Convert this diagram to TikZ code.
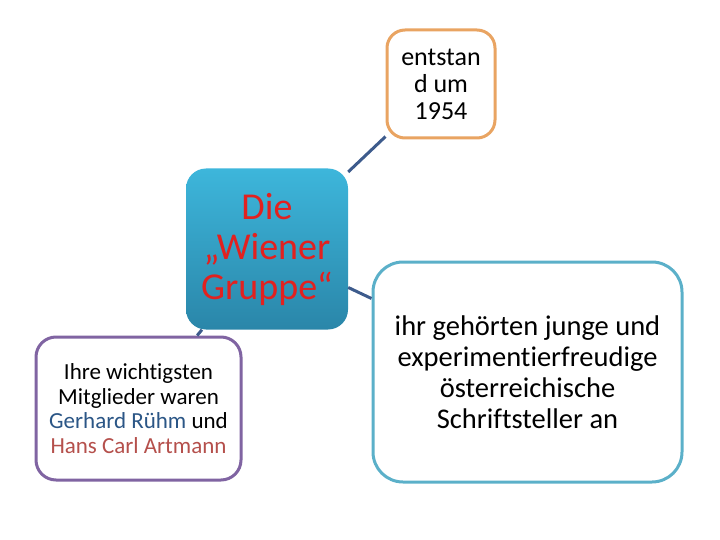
\documentclass[tikz,border=0pt]{standalone}
\usepackage{fontspec}
\setmainfont{Carlito}[Ligatures = NoCommon]
\definecolor{topblue}{HTML}{3DB6DB}
\definecolor{botblue}{HTML}{2A86A9}
\definecolor{wgred}{HTML}{E2211F}
\definecolor{orangeline}{HTML}{E9A462}
\definecolor{tealline}{HTML}{5BB0C9}
\definecolor{purpleline}{HTML}{8064A2}
\definecolor{linkblue}{HTML}{3D5B8C}
\definecolor{nameblue}{HTML}{2B5686}
\definecolor{namered}{HTML}{B5504C}

\begin{document}
\begin{tikzpicture}[x = 1pt, y = -1pt]
	\tikzstyle{mainStyle} = [shape = rectangle, rounded corners = 20pt, inner sep = 0pt, top color = topblue, bottom color = botblue, text = wgred, align = center]
	\tikzstyle{leafStyle} = [shape = rectangle, inner sep = 0pt, line width = 3pt, fill = white, align = center]
	\tikzstyle{linkStyle} = [draw = linkblue, line width = 3pt]
	\useasboundingbox (0,0) rectangle (720,540);
	\node[mainStyle, minimum width = 162pt, minimum height = 161pt, font = \fontsize{38}{40}\selectfont] (gruppe) at (267,249)
		{Die\\„Wiener\\Gruppe“};
	\node[leafStyle, draw = orangeline, rounded corners = 18pt, minimum width = 108pt, minimum height = 108pt, font = \fontsize{26}{27}\selectfont] (jahr) at (441,84)
		{entstan\\d um\\1954};
	\node[leafStyle, draw = tealline, rounded corners = 30pt, minimum width = 309pt, minimum height = 220pt, font = \fontsize{28.5}{31}\selectfont] (autoren) at (527.5,372)
		{ihr gehörten junge und\\experimentierfreudige\\österreichische\\Schriftsteller an};
	\node[leafStyle, draw = purpleline, rounded corners = 20pt, minimum width = 205pt, minimum height = 143pt, font = \fontsize{23}{24.5}\selectfont] (mitglieder) at (138.5,408.5)
		{Ihre wichtigsten\\Mitglieder waren\\\textcolor{nameblue}{Gerhard Rühm} und\\\textcolor{namered}{Hans Carl Artmann}};
	\draw[linkStyle] (gruppe) -- (jahr);
	\draw[linkStyle] (gruppe) -- (autoren);
	\draw[linkStyle] (gruppe) -- (mitglieder);
\end{tikzpicture}
\end{document}
